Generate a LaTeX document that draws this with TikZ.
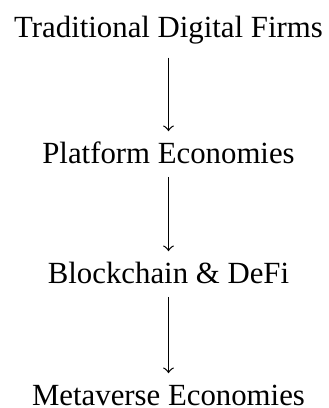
\documentclass[tikz,border=0pt]{standalone}
\usepackage{fontspec}
\setmainfont{Liberation Serif}
\usetikzlibrary{positioning}
\tikzset{stage/.style={anchor=base,inner sep=3.33pt,text height=6.8pt,text depth=1pt}}

\begin{document}
\begin{tikzpicture}[x=0.3247pt,y=0.3247pt]
\useasboundingbox (0,0) rectangle (328,-408);
\node[stage] (firms) at (168.5,-37) {Traditional Digital Firms};
\node[stage] (platform) at (168.5,-163) {Platform Economies};
\node[stage] (chain) at (168.5,-283) {Blockchain \& DeFi};
\node[stage] (meta) at (168.5,-405) {Metaverse Economies};
\draw[->,shorten <=2.2pt] (firms) -- (platform);
\draw[->] (platform) -- (chain);
\draw[->] (chain) -- (meta);
\end{tikzpicture}
\end{document}
